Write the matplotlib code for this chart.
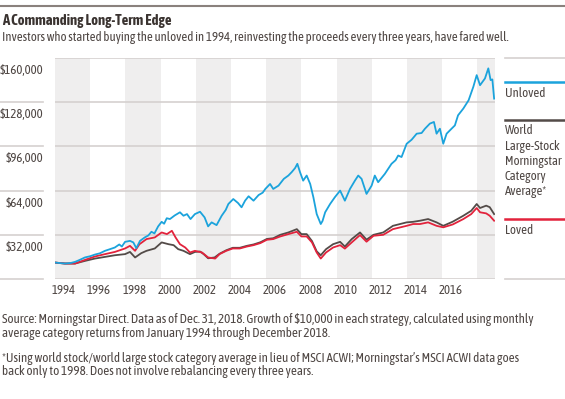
import matplotlib.pyplot as plt
from matplotlib.transforms import ScaledTranslation

# 窄体字
plt.rcParams['font.family'] = ['Asap Condensed', 'Archivo Narrow', 'DejaVu Sans']

W, H = 565, 399

# 颜色
c_text = '#4f4744'
c_title = '#3a3330'
c_grid = '#d5d1cf'
c_band = '#efeeee'
c_blue = '#1ba3dc'
c_gray = '#534b48'
c_red = '#e2233c'

# ---- 数据（单位：千美元，从图上读出）----
unloved_years = [1994.0, 1994.3, 1994.57, 1994.9, 1995.14, 1995.4, 1995.7, 1996.0, 1996.27, 1996.55,
                 1996.84, 1997.1, 1997.4, 1997.65, 1997.8, 1997.98, 1998.26, 1998.45, 1998.62, 1998.83,
                 1999.1, 1999.3, 1999.48, 1999.65, 1999.86, 2000.06, 2000.2, 2000.35, 2000.53, 2000.8,
                 2001.1, 2001.3, 2001.5, 2001.7, 2001.95, 2002.24, 2002.5, 2002.7, 2002.9, 2003.18,
                 2003.47, 2003.7, 2003.85, 2004.13, 2004.4, 2004.6, 2004.8, 2005.0, 2005.28, 2005.57,
                 2005.8, 2005.95, 2006.22, 2006.4, 2006.7, 2007.0, 2007.26, 2007.45, 2007.64, 2007.77,
                 2007.92, 2008.1, 2008.3, 2008.5, 2008.68, 2008.87, 2009.1, 2009.2, 2009.35, 2009.63,
                 2009.9, 2010.2, 2010.47, 2010.76, 2011.04, 2011.23, 2011.42, 2011.7, 2011.99, 2012.17,
                 2012.36, 2012.74, 2013.12, 2013.35, 2013.5, 2013.69, 2013.98, 2014.26, 2014.55, 2014.83,
                 2015.02, 2015.3, 2015.53, 2015.68, 2015.87, 2016.06, 2016.25, 2016.53, 2016.72, 2016.9,
                 2017.2, 2017.5, 2017.77, 2017.96, 2018.15, 2018.43, 2018.62, 2018.75, 2018.85, 2018.95]
unloved_vals = [11.9, 11.5, 11.2, 11.6, 12.4, 13.8, 15.6, 16.5, 17.7, 18.6,
                20.4, 21.5, 22.8, 25.0, 23.5, 26.9, 27.6, 26.5, 22.3, 27.6,
                30.1, 31.5, 34.2, 33.0, 38.1, 41.4, 40.0, 44.0, 43.4, 46.0,
                48.3, 45.8, 47.0, 43.4, 47.0, 48.7, 44.6, 38.1, 41.0, 39.0,
                45.8, 50.0, 54.3, 57.9, 55.0, 51.9, 56.7, 59.9, 56.7, 60.8,
                62.5, 65.2, 68.8, 65.2, 67.6, 72.5, 74.9, 77.4, 80.3, 83.4,
                77.4, 71.2, 74.9, 68.8, 59.2, 47.0, 39.8, 42.0, 48.3, 54.3,
                59.2, 64.0, 56.7, 65.2, 71.2, 74.9, 72.5, 61.6, 67.6, 74.9,
                70.1, 76.1, 83.4, 86.0, 89.4, 88.3, 97.9, 100.8, 105.2, 105.7,
                108.8, 112.5, 113.7, 105.2, 108.8, 97.9, 105.2, 108.8, 111.2, 118.5,
                123.4, 129.4, 139.2, 147.6, 140.3, 145.2, 152.5, 144.0, 144.5, 130.6]

world_years = [1994.0, 1994.57, 1995.14, 1995.7, 1996.27, 1996.84, 1997.4, 1997.98, 1998.26, 1998.55,
               1998.9, 1999.2, 1999.67, 2000.06, 2000.45, 2000.74, 2001.0, 2001.3, 2001.67, 2001.95,
               2002.24, 2002.45, 2002.7, 2003.07, 2003.35, 2003.73, 2004.1, 2004.5, 2004.9, 2005.28,
               2005.67, 2006.04, 2006.4, 2006.8, 2007.26, 2007.74, 2008.0, 2008.3, 2008.6, 2008.87,
               2009.1, 2009.4, 2009.8, 2010.2, 2010.47, 2010.86, 2011.33, 2011.7, 2012.1, 2012.65,
               2013.2, 2013.98, 2014.35, 2014.74, 2015.2, 2015.68, 2016.06, 2016.6, 2017.2, 2017.65,
               2017.96, 2018.15, 2018.5, 2018.7, 2018.95]
world_vals = [11.9, 11.2, 11.2, 13.1, 14.8, 16.0, 17.2, 18.0, 19.6, 15.6,
              18.7, 20.4, 22.1, 26.5, 25.2, 24.5, 21.6, 20.4, 18.0, 19.6,
              19.9, 18.0, 15.0, 15.6, 18.3, 20.8, 22.6, 22.6, 24.0, 25.0,
              26.6, 29.0, 29.5, 32.0, 33.7, 36.1, 32.5, 32.5, 27.5, 20.0,
              17.2, 21.6, 25.2, 26.9, 23.5, 28.9, 33.7, 28.5, 32.0, 33.7,
              38.5, 41.0, 41.4, 42.2, 43.4, 41.0, 38.5, 41.5, 45.8, 49.4,
              54.3, 51.4, 53.1, 52.0, 47.0]

loved_years = [1994.0, 1994.57, 1995.14, 1995.7, 1996.27, 1996.84, 1997.4, 1997.98, 1998.26, 1998.55,
               1998.8, 1999.2, 1999.67, 2000.06, 2000.36, 2000.64, 2000.85, 2001.1, 2001.4, 2001.67,
               2001.95, 2002.35, 2002.7, 2003.1, 2003.35, 2003.73, 2004.1, 2004.5, 2004.9, 2005.28,
               2005.67, 2006.04, 2006.4, 2006.8, 2007.26, 2007.74, 2008.0, 2008.3, 2008.6, 2008.87,
               2009.1, 2009.4, 2009.8, 2010.2, 2010.47, 2010.86, 2011.33, 2011.7, 2012.1, 2012.65,
               2013.2, 2013.98, 2014.35, 2014.74, 2015.2, 2015.68, 2016.06, 2016.6, 2017.2, 2017.65,
               2017.96, 2018.15, 2018.5, 2018.7, 2018.95]
loved_vals = [11.9, 11.2, 11.2, 13.8, 16.3, 18.0, 19.6, 22.1, 24.0, 20.4,
              25.2, 28.9, 30.1, 33.7, 32.5, 34.9, 30.1, 25.2, 22.8, 19.2,
              20.4, 19.2, 15.6, 14.8, 18.0, 20.4, 22.1, 22.1, 23.5, 24.5,
              26.0, 28.4, 28.9, 30.8, 32.5, 34.2, 30.8, 30.8, 26.5, 19.2,
              14.8, 19.2, 22.8, 24.5, 22.0, 26.5, 31.8, 27.0, 31.3, 32.0,
              36.1, 38.5, 39.8, 39.8, 41.0, 38.5, 37.4, 39.5, 43.4, 47.0,
              51.4, 48.3, 47.5, 45.8, 42.2]

y_ticks = [32000, 64000, 96000, 128000, 160000]
y_tick_labels = ['$32,000', '$64,000', '$96,000', '$128,000', '$160,000']
x_tick_years = list(range(1994, 2017, 2))
band_starts = [1994, 1998, 2002, 2006, 2010, 2014, 2018]

legend_names = ['Unloved', 'World\nLarge-Stock\nMorningstar\nCategory\nAverage*', 'Loved']


def fx(px):
    return px / W


def fy(py):
    return 1 - py / H


fig = plt.figure(figsize=(W / 100, H / 100), dpi=100)
ax = fig.add_axes([fx(55), fy(279), fx(495) - fx(55), fy(58) - fy(279)])

# 灰色竖条
for b in band_starts:
    ax.axvspan(b, min(b + 2, 2019), color=c_band, lw=0, zorder=0)

ax.set_xlim(1994, 2019)
ax.set_ylim(0, 160000)

ax.set_yticks([0] + y_ticks)
ax.set_yticklabels([''] + y_tick_labels)
ax.grid(axis='y', color=c_grid, lw=1.2, zorder=1)
ax.set_axisbelow(True)
ax.tick_params(axis='y', length=0, pad=8.6, labelsize=9.2, labelcolor=c_text)
# 标签放在网格线下面一点
for lab in ax.get_yticklabels():
    lab.set_transform(lab.get_transform() + ScaledTranslation(0, -0.11, fig.dpi_scale_trans))

# 网格线在左边标签区也画一段（顶线除外）
for v in [0] + y_ticks[:-1]:
    ax.plot([-55 / 440, -12 / 440], [v, v], transform=ax.get_yaxis_transform(),
            color=c_grid, lw=1.2, clip_on=False)

ax.set_xticks([y + 0.5 for y in x_tick_years])
ax.set_xticklabels([str(y) for y in x_tick_years])
ax.tick_params(axis='x', length=0, pad=3.5, labelsize=9.2, labelcolor=c_text)

for s in ax.spines.values():
    s.set_visible(False)

ax.plot(world_years, [v * 1000 for v in world_vals], color=c_gray, lw=1.3, zorder=3)
ax.plot(loved_years, [v * 1000 for v in loved_vals], color=c_red, lw=1.3, zorder=4)
ax.plot(unloved_years, [v * 1000 for v in unloved_vals], color=c_blue, lw=1.3, zorder=5)

# 顶部横线
fig.add_artist(plt.Line2D([0, 1], [fy(6), fy(6)], color='#8a817d', lw=1.5))

# 标题
fig.text(fx(2), fy(21), 'A Commanding Long-Term Edge', fontsize=10.5, fontweight='bold',
         color=c_title, va='center', ha='left')
fig.text(fx(2), fy(37), 'Investors who started buying the unloved in 1994, reinvesting the proceeds every three years, have fared well.',
         fontsize=9.25, color=c_text, va='center', ha='left')

# 右侧图例
fig.add_artist(plt.Line2D([fx(505), 1], [fy(58), fy(58)], color=c_grid, lw=1.2))
fig.add_artist(plt.Line2D([fx(505), 1], [fy(279), fy(279)], color=c_grid, lw=1.2))
leg_line_y = [82, 119.5, 218.5]
leg_text_y = [87, 124.5, 224]
for name, col, ly, ty in zip(legend_names, [c_blue, c_gray, c_red], leg_line_y, leg_text_y):
    fig.add_artist(plt.Line2D([fx(505), 1], [fy(ly), fy(ly)], color=col, lw=1.8))
    fig.text(fx(505), fy(ty), name, fontsize=9.3, color=c_text, va='top', ha='left',
             linespacing=1.22)

# 脚注
fig.text(fx(2), fy(313), 'Source: Morningstar Direct. Data as of Dec. 31, 2018. Growth of $10,000 in each strategy, calculated using monthly\naverage category returns from January 1994 through December 2018.',
         fontsize=9.4, color=c_text, va='top', ha='left', linespacing=1.05)
fig.text(fx(2), fy(352), '*Using world stock/world large stock category average in lieu of MSCI ACWI; Morningstar\u2019s MSCI ACWI data goes\nback only to 1998. Does not involve rebalancing every three years.',
         fontsize=9.4, color=c_text, va='top', ha='left', linespacing=1.05)

fig.savefig('out.png', dpi=100)
